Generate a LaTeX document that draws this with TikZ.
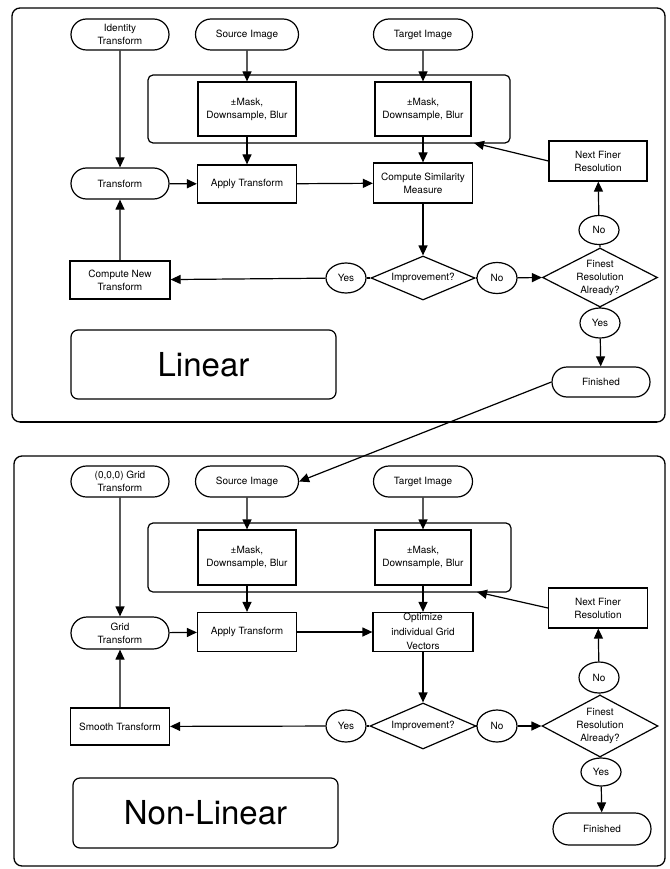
\documentclass[tikz,border=0pt]{standalone}
\usepackage{fontspec}
\setmainfont{TeX Gyre Heros}
\usetikzlibrary{shapes.misc,shapes.geometric,arrows.meta}
\tikzset{
  base/.style={draw=black, line width=1.2pt, inner sep=0pt, align=center, font=\fontsize{10}{13}\selectfont},
  pill/.style={base, rounded rectangle, minimum width=98pt, minimum height=31pt},
  box/.style={base, rectangle, minimum width=99pt, minimum height=38pt},
  oval/.style={base, ellipse, minimum width=40pt, minimum height=30pt},
  txt/.style={inner sep=0pt, align=center, font=\fontsize{10}{13}\selectfont},
  grpbox/.style={draw=black, line width=1.2pt, rounded corners=5pt},
  panel/.style={draw=black, line width=1.3pt, rounded corners=8pt},
  namebox/.style={draw=black, line width=1.2pt, rounded corners=7pt, inner sep=0pt, font=\fontsize{33}{36}\selectfont},
  arr/.style={line width=1.2pt, -{Triangle[length=10pt,width=9pt]}},
  ln/.style={line width=1.2pt}
}
\begin{document}
\begin{tikzpicture}[x=1pt,y=-1pt]
\useasboundingbox (0,0) rectangle (669,869);
\fill[white] (0,0) rectangle (669,869);

% ================= TOP PANEL (Linear) =================
\draw[panel] (12,8) rectangle (665,422);
\draw[line width=2.6pt] (20,422) -- (657,422);
\draw[grpbox] (148,75) rectangle (510,143);
\coordinate (ntip) at (474,143);

\node[pill, minimum width=98pt] (idt) at (120,34.5) {Identity\\Transform};
\node[pill, minimum width=103pt] (src) at (247,34.5) {Source Image};
\node[pill, minimum width=99pt] (tgt) at (423,34.5) {Target Image};
\node[box, minimum width=98pt, minimum height=54pt] (mskL) at (247,109) {±Mask,\\Downsample, Blur};
\node[box, minimum width=96pt, minimum height=54pt] (mskR) at (423,109) {±Mask,\\Downsample, Blur};
\node[pill] (tr) at (120,183.5) {Transform};
\node[box] (app) at (247,184) {Apply Transform};
\node[box, minimum height=40pt] (sim) at (423,183) {Compute Similarity\\Measure};
\node[box, minimum width=98pt, minimum height=40pt] (nfr) at (598,161) {Next Finer\\Resolution};
\node[oval, minimum height=29pt] (noU) at (599,230) {No};
\node[base, diamond, minimum width=115pt, minimum height=59pt] (fin) at (600,277.5) {};
\node[txt] (fint) at (600,277.5) {Finest\\Resolution\\Already?};
\node[oval] (yesB) at (600,323) {Yes};
\node[pill, minimum height=30pt] (done) at (601,382) {Finished};
\node[base, diamond, minimum width=104pt, minimum height=44pt] (imp) at (423,278) {};
\node[txt] (impt) at (423,278) {Improvement?};
\node[oval] (yesL) at (346,278) {Yes};
\node[oval, minimum height=31pt] (noM) at (497,278) {No};
\node[box, minimum width=100pt] (cnt) at (120,280) {Compute New\\Transform};
\node[namebox, minimum width=265pt, minimum height=69pt] (lin) at (203.5,364.5) {Linear};

\draw[arr] (idt) -- (tr);
\draw[arr] (src) -- (mskL);
\draw[arr] (mskL) -- (app);
\draw[arr] (tr) -- (app);
\draw[arr] (app) -- (sim);
\draw[arr] (tgt) -- (mskR);
\draw[arr] (mskR) -- (sim);
\draw[arr] (sim) -- (imp);
\draw[ln] (imp.west) -- (yesL);
\draw[arr] (yesL) -- (cnt);
\draw[arr] (cnt) -- (tr);
\draw[ln] (imp.east) -- (noM);
\draw[arr] (noM) -- (fin.west);
\draw[ln] (fin.north) -- (noU);
\draw[arr] (noU) -- (nfr);
\draw[arr] (nfr.west) -- (ntip);
\draw[ln] (fin.south) -- (yesB);
\draw[arr] (yesB) -- (done);

% ================= BOTTOM PANEL (Non-Linear) =================
\draw[panel] (14,456) rectangle (665,866);
\draw[grpbox] (148,523) rectangle (511,592);
\coordinate (ntip2) at (477,592);

\node[pill, minimum width=98pt] (gt0) at (120,481.5) {(0,0,0) Grid\\Transform};
\node[pill, minimum width=103pt] (src2) at (247,481.5) {Source Image};
\node[pill, minimum width=99pt] (tgt2) at (423,481.5) {Target Image};
\node[box, minimum width=98pt, minimum height=55pt] (mskL2) at (247,557.5) {±Mask,\\Downsample, Blur};
\node[box, minimum width=96pt, minimum height=55pt] (mskR2) at (423,557.5) {±Mask,\\Downsample, Blur};
\node[pill, minimum height=32pt] (gtr) at (120,633) {Grid\\Transform};
\node[box, minimum height=39pt] (app2) at (247,632) {Apply Transform};
\node[box, minimum width=100pt, minimum height=39pt] (opt) at (423,632) {};
\node[txt, font=\fontsize{10}{14.5}\selectfont] (optt) at (423,631.5) {Optimize\\individual Grid\\Vectors};
\node[box, minimum width=99pt, minimum height=40pt] (nfr2) at (598,608) {Next Finer\\Resolution};
\node[oval, minimum height=31pt] (noU2) at (599,677.5) {No};
\node[base, diamond, minimum width=116pt, minimum height=62pt] (fin2) at (600,726) {};
\node[txt] (fint2) at (600,726) {Finest\\Resolution\\Already?};
\node[oval, minimum height=28pt] (yesB2) at (601,772) {Yes};
\node[pill, minimum height=32pt] (done2) at (602,829) {Finished};
\node[base, diamond, minimum width=106pt, minimum height=46pt] (imp2) at (423,726) {};
\node[txt] (impt2) at (423,726) {Improvement?};
\node[oval, minimum height=32pt] (yesL2) at (346,726) {Yes};
\node[oval, minimum height=32pt] (noM2) at (497,726) {No};
\node[box, minimum height=37pt] (smt) at (120,726.5) {Smooth Transform};
\node[namebox, minimum width=265pt, minimum height=70pt] (nlin) at (205.5,813) {Non-Linear};

\draw[arr] (gt0) -- (gtr);
\draw[arr] (src2) -- (mskL2);
\draw[arr] (mskL2) -- (app2);
\draw[arr] (gtr) -- (app2);
\draw[arr] (app2) -- (opt);
\draw[arr] (tgt2) -- (mskR2);
\draw[arr] (mskR2) -- (opt);
\draw[arr] (opt) -- (imp2);
\draw[ln] (imp2.west) -- (yesL2);
\draw[arr] (yesL2) -- (smt);
\draw[arr] (smt) -- (gtr);
\draw[ln] (imp2.east) -- (noM2);
\draw[arr] (noM2) -- (fin2.west);
\draw[ln] (fin2.north) -- (noU2);
\draw[arr] (noU2) -- (nfr2);
\draw[arr] (nfr2.west) -- (ntip2);
\draw[ln] (fin2.south) -- (yesB2);
\draw[arr] (yesB2) -- (done2);

% link between panels
\draw[arr] (done.west) -- (src2.east);
\end{tikzpicture}
\end{document}
